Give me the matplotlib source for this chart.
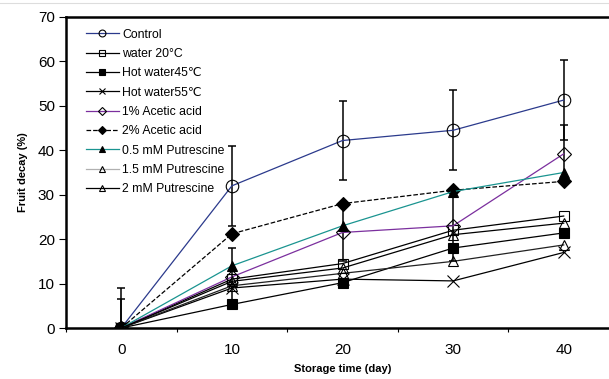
import matplotlib
matplotlib.use("Agg")
import matplotlib.pyplot as plt
from matplotlib.lines import Line2D

plt.rcParams['font.family'] = ['Liberation Sans', 'DejaVu Sans']

days = [0, 10, 20, 30, 40]
control = [0, 32.0, 42.2, 44.5, 51.3]
control_err = [9, 9, 9, 9, 9]
water20 = [0, 11.0, 14.5, 22.0, 25.2]
hot45 = [0, 5.3, 10.2, 18.0, 21.4]
hot55 = [0, 9.0, 11.0, 10.6, 17.0]
acetic1 = [0, 11.5, 21.5, 23.0, 39.2]
acetic1_err = [6.5, 6.5, 6.5, 8, 6.5]
acetic2 = [0, 21.2, 28.0, 31.0, 33.0]
put05 = [0, 14.0, 23.0, 30.7, 35.0]
put15 = [0, 9.5, 12.3, 15.0, 18.7]
put2 = [0, 10.5, 13.5, 21.0, 23.6]

labels = ["Control", "water 20°C", "Hot water45℃", "Hot water55℃",
          "1% Acetic acid", "2% Acetic acid", "0.5 mM Putrescine",
          "1.5 mM Putrescine", "2 mM Putrescine"]

fig = plt.figure(figsize=(6.09, 3.79), dpi=100)
ax = fig.add_axes([66/609, 51/379, 553/609, 311/379])

lw = 0.9
def plot(y, label, color, marker, ms, mfc, ls='-', err=None):
    if err is not None:
        ax.errorbar(days, y, yerr=err, fmt='none', ecolor='black', elinewidth=1.1,
                    capsize=3, capthick=1.1, zorder=2)
    h, = ax.plot(days, y, ls=ls, color=color, lw=lw, marker=marker, ms=ms,
                 mfc=mfc, mec='black', mew=0.8, label=label, zorder=3)
    return h

plot(control, labels[0], '#2b3a8c', 'o', 9, 'none', err=control_err)
plot(water20, labels[1], 'black', 's', 7, 'none')
plot(hot45, labels[2], 'black', 's', 7, 'black')
plot(hot55, labels[3], 'black', 'x', 8, 'black')
plot(acetic1, labels[4], '#7b2f9e', 'D', 7, 'none', err=acetic1_err)
plot(acetic2, labels[5], 'black', 'D', 7.5, 'black', ls='--')
plot(put05, labels[6], '#1a9490', '^', 7.5, 'black')
plot(put15, labels[7], '#222222', '^', 7.5, 'none')
plot(put2, labels[8], 'black', '^', 7.5, 'none')

ax.set_xlim(-5, 45)
ax.set_ylim(0, 70)
ax.set_xticks([-5, 5, 15, 25, 35, 45])
ax.set_xticklabels([])
ax.set_xticks(days, minor=True)
ax.set_xticklabels([str(d) for d in days], minor=True)
ax.tick_params(axis='x', which='major', direction='out', length=3, width=0.8)
ax.tick_params(axis='x', which='minor', length=0, pad=11, labelsize=11)
ax.set_yticks(range(0, 71, 10))
ax.tick_params(axis='y', direction='out', length=5, width=0.8, pad=3, labelsize=11)

for s in ['left', 'top', 'bottom']:
    ax.spines[s].set_linewidth(1.8)
ax.spines['right'].set_visible(False)

ax.set_xlabel("Storage time (day)", fontsize=8, fontweight='bold', labelpad=5)
ax.set_ylabel("Fruit decay (%)", fontsize=8, fontweight='bold', labelpad=7)

leg = ax.legend(loc='upper left', bbox_to_anchor=(0.02, 0.99), frameon=False,
                fontsize=8.8, markerscale=0.55, handlelength=2.7,
                handletextpad=0.3, labelspacing=0.6, borderaxespad=0.3)
leg.get_lines()[7].set_color('#b0b0b0')

fig.add_artist(Line2D([0, 1], [1 - 3/379, 1 - 3/379], color='#dddddd', lw=0.8))

fig.savefig("out.png", dpi=100)
